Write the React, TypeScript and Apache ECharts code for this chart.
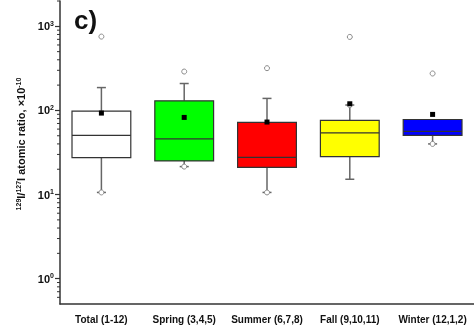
import { useEffect, useRef } from 'react';
import * as echarts from 'echarts';

// Seasonal groups and box statistics of the 129I/127I ratio (×10^-10)
const categories = ['Total (1-12)', 'Spring (3,4,5)', 'Summer (6,7,8)', 'Fall (9,10,11)', 'Winter (12,1,2)'];
const whiskerLow = [10.6, 21.5, 10.6, 15.2, 40];
const quartile1 = [27.5, 25.1, 21.1, 28.2, 50.5];
const medians = [50.5, 45.8, 27.7, 54, 56.4];
const quartile3 = [98, 130, 72, 76, 78];
const whiskerHigh = [187, 209, 139, 116, 78];
const means = [93, 82.6, 72.8, 120, 89.7];
const outliers = [755, 290, 318, 748, 275];
// whisker ends that carry a min/max marker: [group index, value]
const extremeMarks: [number, number][] = [[0, 10.6], [1, 21.5], [2, 10.6], [3, 116], [4, 40]];
const boxColors = ['#ffffff', '#00ff00', '#ff0000', '#ffff00', '#0000ff'];

const majorTicks = [1, 10, 100, 1000];
const minorTicks = [0.6, 0.7, 0.8, 0.9, 2, 3, 4, 5, 6, 7, 8, 9, 20, 30, 40, 50, 60, 70, 80, 90, 200, 300, 400, 500, 600, 700, 800, 900, 2000];

export default function App() {
  const ref = useRef<HTMLDivElement>(null);

  useEffect(() => {
    const chart = echarts.init(ref.current!, null, { renderer: 'svg' });
    const axisColor = '#333';
    const font = 'Arial, "Liberation Sans", Helvetica, sans-serif';

    const boxData = categories.map((_, i) => [
      i, whiskerLow[i], quartile1[i], medians[i], quartile3[i], whiskerHigh[i],
    ]);

    chart.setOption({
      animation: false,
      grid: { left: 60, right: 0, top: 1, bottom: 27, containLabel: false },
      xAxis: {
        type: 'category',
        data: categories,
        boundaryGap: true,
        axisLine: { lineStyle: { color: axisColor, width: 1.5 } },
        axisTick: { alignWithLabel: true, length: 5, lineStyle: { color: axisColor, width: 1.5 } },
        axisLabel: { color: '#111', fontSize: 10, fontWeight: 'bold', fontFamily: font, margin: 10, interval: 0 },
        splitLine: { show: false },
      },
      yAxis: {
        type: 'log',
        logBase: 10,
        min: 0.5,
        max: 2000,
        axisLine: { show: true, lineStyle: { color: axisColor, width: 1.5 } },
        axisTick: { show: true, length: 5, customValues: majorTicks, lineStyle: { color: axisColor, width: 1.2 } },
        axisLabel: {
          customValues: majorTicks,
          margin: 6,
          formatter: (v: number) => `{b|10}{s|${Math.round(Math.log10(v))}}`,
          rich: {
            b: { fontSize: 11, fontWeight: 'bold', fontFamily: font, color: '#111', lineHeight: 13 },
            s: { fontSize: 7, fontWeight: 'bold', fontFamily: font, color: '#111', lineHeight: 8, verticalAlign: 'top' },
          },
        },
        splitLine: { show: false },
        minorTick: { show: false },
      },
      graphic: [
        {
          type: 'text',
          left: 74,
          top: 7,
          style: { text: 'c)', font: `bold 26px ${font}`, fill: '#111' },
        },
        {
          type: 'text',
          x: 21,
          y: 144,
          rotation: Math.PI / 2,
          style: {
            text: '{s|129}{b|I/}{s|127}{b|I atomic ratio, ×10}{s|-10}',
            align: 'center',
            verticalAlign: 'middle',
            rich: {
              b: { fontSize: 11, fontWeight: 'bold', fontFamily: font, fill: '#111', lineHeight: 13 },
              s: { fontSize: 7, fontWeight: 'bold', fontFamily: font, fill: '#111', lineHeight: 8, verticalAlign: 'top' },
            },
          },
        },
      ],
      series: [
        {
          // minor ticks of the logarithmic axis (2..9 within each decade)
          type: 'custom',
          name: 'minorTicks',
          coordinateSystem: 'cartesian2d',
          encode: { x: 0, y: 1 },
          data: minorTicks.map((v) => [0, v]),
          clip: false,
          silent: true,
          z: 1,
          renderItem: (params: any, api: any) => {
            const y = api.coord([0, api.value(1)])[1];
            const x0 = params.coordSys.x;
            return {
              type: 'line',
              shape: { x1: x0 - 3, y1: y, x2: x0, y2: y },
              style: { stroke: axisColor, lineWidth: 1 },
            };
          },
        },
        {
          type: 'custom',
          name: 'box',
          coordinateSystem: 'cartesian2d',
          encode: { x: 0, y: [1, 2, 3, 4, 5] },
          data: boxData,
          z: 2,
          renderItem: (params: any, api: any) => {
            const i = api.value(0);
            const low = api.value(1);
            const q1 = api.value(2);
            const med = api.value(3);
            const q3 = api.value(4);
            const high = api.value(5);
            const band = params.coordSys.width / categories.length;
            const boxW = band * 0.71;
            const capW = 9;
            const cx = api.coord([i, med])[0];
            const yLow = api.coord([i, low])[1];
            const yQ1 = api.coord([i, q1])[1];
            const yMed = api.coord([i, med])[1];
            const yQ3 = api.coord([i, q3])[1];
            const yHigh = api.coord([i, high])[1];
            const whisker = { stroke: '#666', lineWidth: 1.5 };
            const children: any[] = [];
            if (low < q1) {
              children.push({ type: 'line', shape: { x1: cx, y1: yQ1, x2: cx, y2: yLow }, style: whisker });
              children.push({ type: 'line', shape: { x1: cx - capW / 2, y1: yLow, x2: cx + capW / 2, y2: yLow }, style: whisker });
            }
            if (high > q3) {
              children.push({ type: 'line', shape: { x1: cx, y1: yQ3, x2: cx, y2: yHigh }, style: whisker });
              children.push({ type: 'line', shape: { x1: cx - capW / 2, y1: yHigh, x2: cx + capW / 2, y2: yHigh }, style: whisker });
            }
            children.push({
              type: 'rect',
              shape: { x: cx - boxW / 2, y: yQ3, width: boxW, height: yQ1 - yQ3 },
              style: { fill: boxColors[i], stroke: '#333', lineWidth: 1.2 },
            });
            children.push({
              type: 'line',
              shape: { x1: cx - boxW / 2, y1: yMed, x2: cx + boxW / 2, y2: yMed },
              style: { stroke: '#333', lineWidth: 1.2 },
            });
            return { type: 'group', children };
          },
        },
        {
          type: 'scatter',
          name: 'extremes',
          data: extremeMarks,
          symbol: 'circle',
          symbolSize: 5,
          itemStyle: { color: '#fff', borderColor: '#888', borderWidth: 1, opacity: 1 },
          z: 3,
        },
        {
          type: 'scatter',
          name: 'outliers',
          data: outliers.map((v, i) => [i, v]),
          symbol: 'circle',
          symbolSize: 5,
          itemStyle: { color: '#fff', borderColor: '#888', borderWidth: 1, opacity: 1 },
          z: 3,
        },
        {
          type: 'scatter',
          name: 'mean',
          data: means.map((v, i) => [i, v]),
          symbol: 'rect',
          symbolSize: 5,
          itemStyle: { color: '#000', opacity: 1 },
          z: 4,
        },
      ],
    });

    return () => chart.dispose();
  }, []);

  return <div ref={ref} style={{ position: 'fixed', left: 0, top: 0, width: 474, height: 331 }} />;
}
